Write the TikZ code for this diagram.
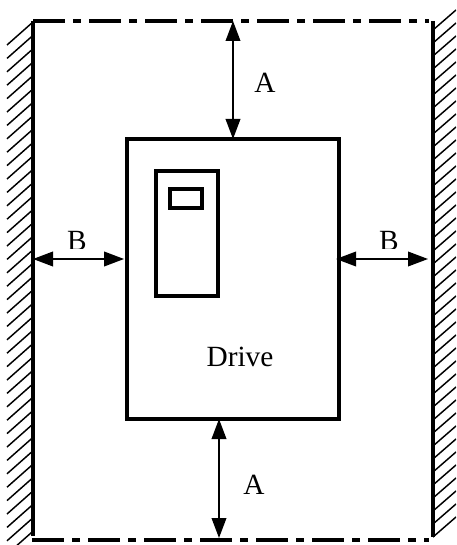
\documentclass[tikz,border=0pt]{standalone}
\usepackage{fontspec}
\setmainfont{Liberation Serif}
\usetikzlibrary{arrows.meta,positioning}

\begin{document}
\begin{tikzpicture}[x=0.75pt, y=-0.75pt, >={Triangle[length=15pt,width=11pt]},
    box/.style={draw=black, line width=2.6pt, anchor=north west, inner sep=0pt, outer sep=0pt},
    wall/.style={line width=3pt, line cap=butt},
    frame/.style={line width=3pt, dash pattern=on 24pt off 6pt on 6pt off 6pt},
    hatch/.style={line width=1.1pt},
    dim/.style={<->, line width=1.2pt},
    lab/.style={inner sep=0pt, font=\fontsize{22}{22}\selectfont}]
    \useasboundingbox (0,0) rectangle (456,545);

    \node[box, minimum width=212*0.75pt, minimum height=280*0.75pt] (Drive) at (127,139) {};
    \node[box, minimum width=62*0.75pt, minimum height=125*0.75pt] (Panel) at (156,171) {};
    \node[box, minimum width=32*0.75pt, minimum height=19*0.75pt] (Screen) at (170,189) {};
    \node[lab] (DriveText) at (240,357) {Drive};

    % Corners of the enclosure
    \coordinate (TL) at (33,21);
    \coordinate (TR) at (429,21);
    \coordinate (BL) at (32,540);
    \coordinate (BR) at (429,540);

    \draw[wall] (33,21) -- (33,536);
    \draw[wall] (433,21) -- (433,537);
    \draw[frame] (TL) -- (TR);
    \draw[frame] (BL) -- (BR);

    \begin{scope}
        \clip (0,0) rectangle (456,545);
        \foreach \y in {22,35.4,...,532} {
            \draw[hatch] (33,\y) -- (7,\y+23);
        }
        \foreach \y in {537,524,...,29} {
            \draw[hatch] (433,\y) -- (456,\y-20);
        }
    \end{scope}

    % End points of the dimensions
    \coordinate (TopA) at (233,21);
    \coordinate (BottomA) at (219,538);
    \coordinate (LeftB) at (33,259);
    \coordinate (RightB) at (428,259);

    \draw[dim] (TopA) -- (TopA |- Drive.north);
    \draw[dim] (BottomA |- Drive.south) -- (BottomA);
    \draw[dim] (LeftB) -- ([xshift=-2.2pt]LeftB -| Drive.west);
    \draw[dim] ([xshift=-2.2pt]LeftB -| Drive.east) -- (RightB);

    \node[lab] (TopLabel) at (265,83) {A};
    \node[lab] (BottomLabel) at (254,485) {A};

    % The B labels are cut off just under the letter
    \begin{scope}
        \clip (50,220) rectangle (420,248.5);
        \node[lab, anchor=base] (LeftLabel) at (77,250) {B};
        \node[lab, anchor=base] (RightLabel) at (389,250) {B};
    \end{scope}
\end{tikzpicture}
\end{document}
